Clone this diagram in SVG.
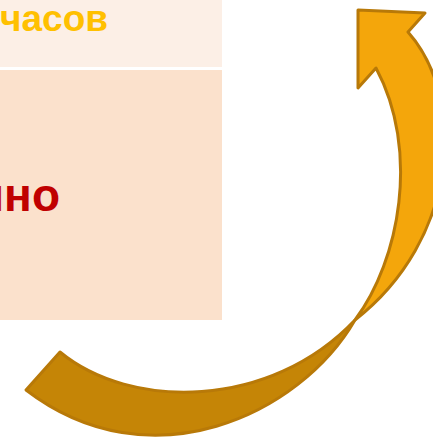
<svg xmlns="http://www.w3.org/2000/svg" width="433" height="443" viewBox="0 0 433 443">
<style>
.cell1{fill:#fcefe6}
.cell2{fill:#fbe1cc}
.t{font-family:"Liberation Sans","DejaVu Sans",sans-serif;font-weight:bold}
.arr{stroke:#b87908;stroke-width:3;stroke-linejoin:round}
</style>
<rect width="433" height="443" fill="#ffffff"/>
<g id="cell-top">
<rect class="cell1" x="0" y="0" width="222" height="67"/>
<text class="t" x="108" y="31" text-anchor="end" font-size="37" fill="#ffc000">часов</text>
</g>
<g id="cell-bottom">
<rect class="cell2" x="0" y="70" width="222" height="250"/>
<text class="t" x="60" y="211" text-anchor="end" font-size="46" fill="#c00000">нно</text>
</g>
<g id="connectors">
<path class="arr" fill="#c58506" d="M60,352 C130,410 270,410 355,320 C300,415 150,485 26,390 Z"/>
<path class="arr" fill="#f4a60b" d="M355,320 C400,260 420,150 376,68 L358,88 L358,10 L425,13 L408,32 C468,100 458,240 355,320 Z"/>
</g>
</svg>
